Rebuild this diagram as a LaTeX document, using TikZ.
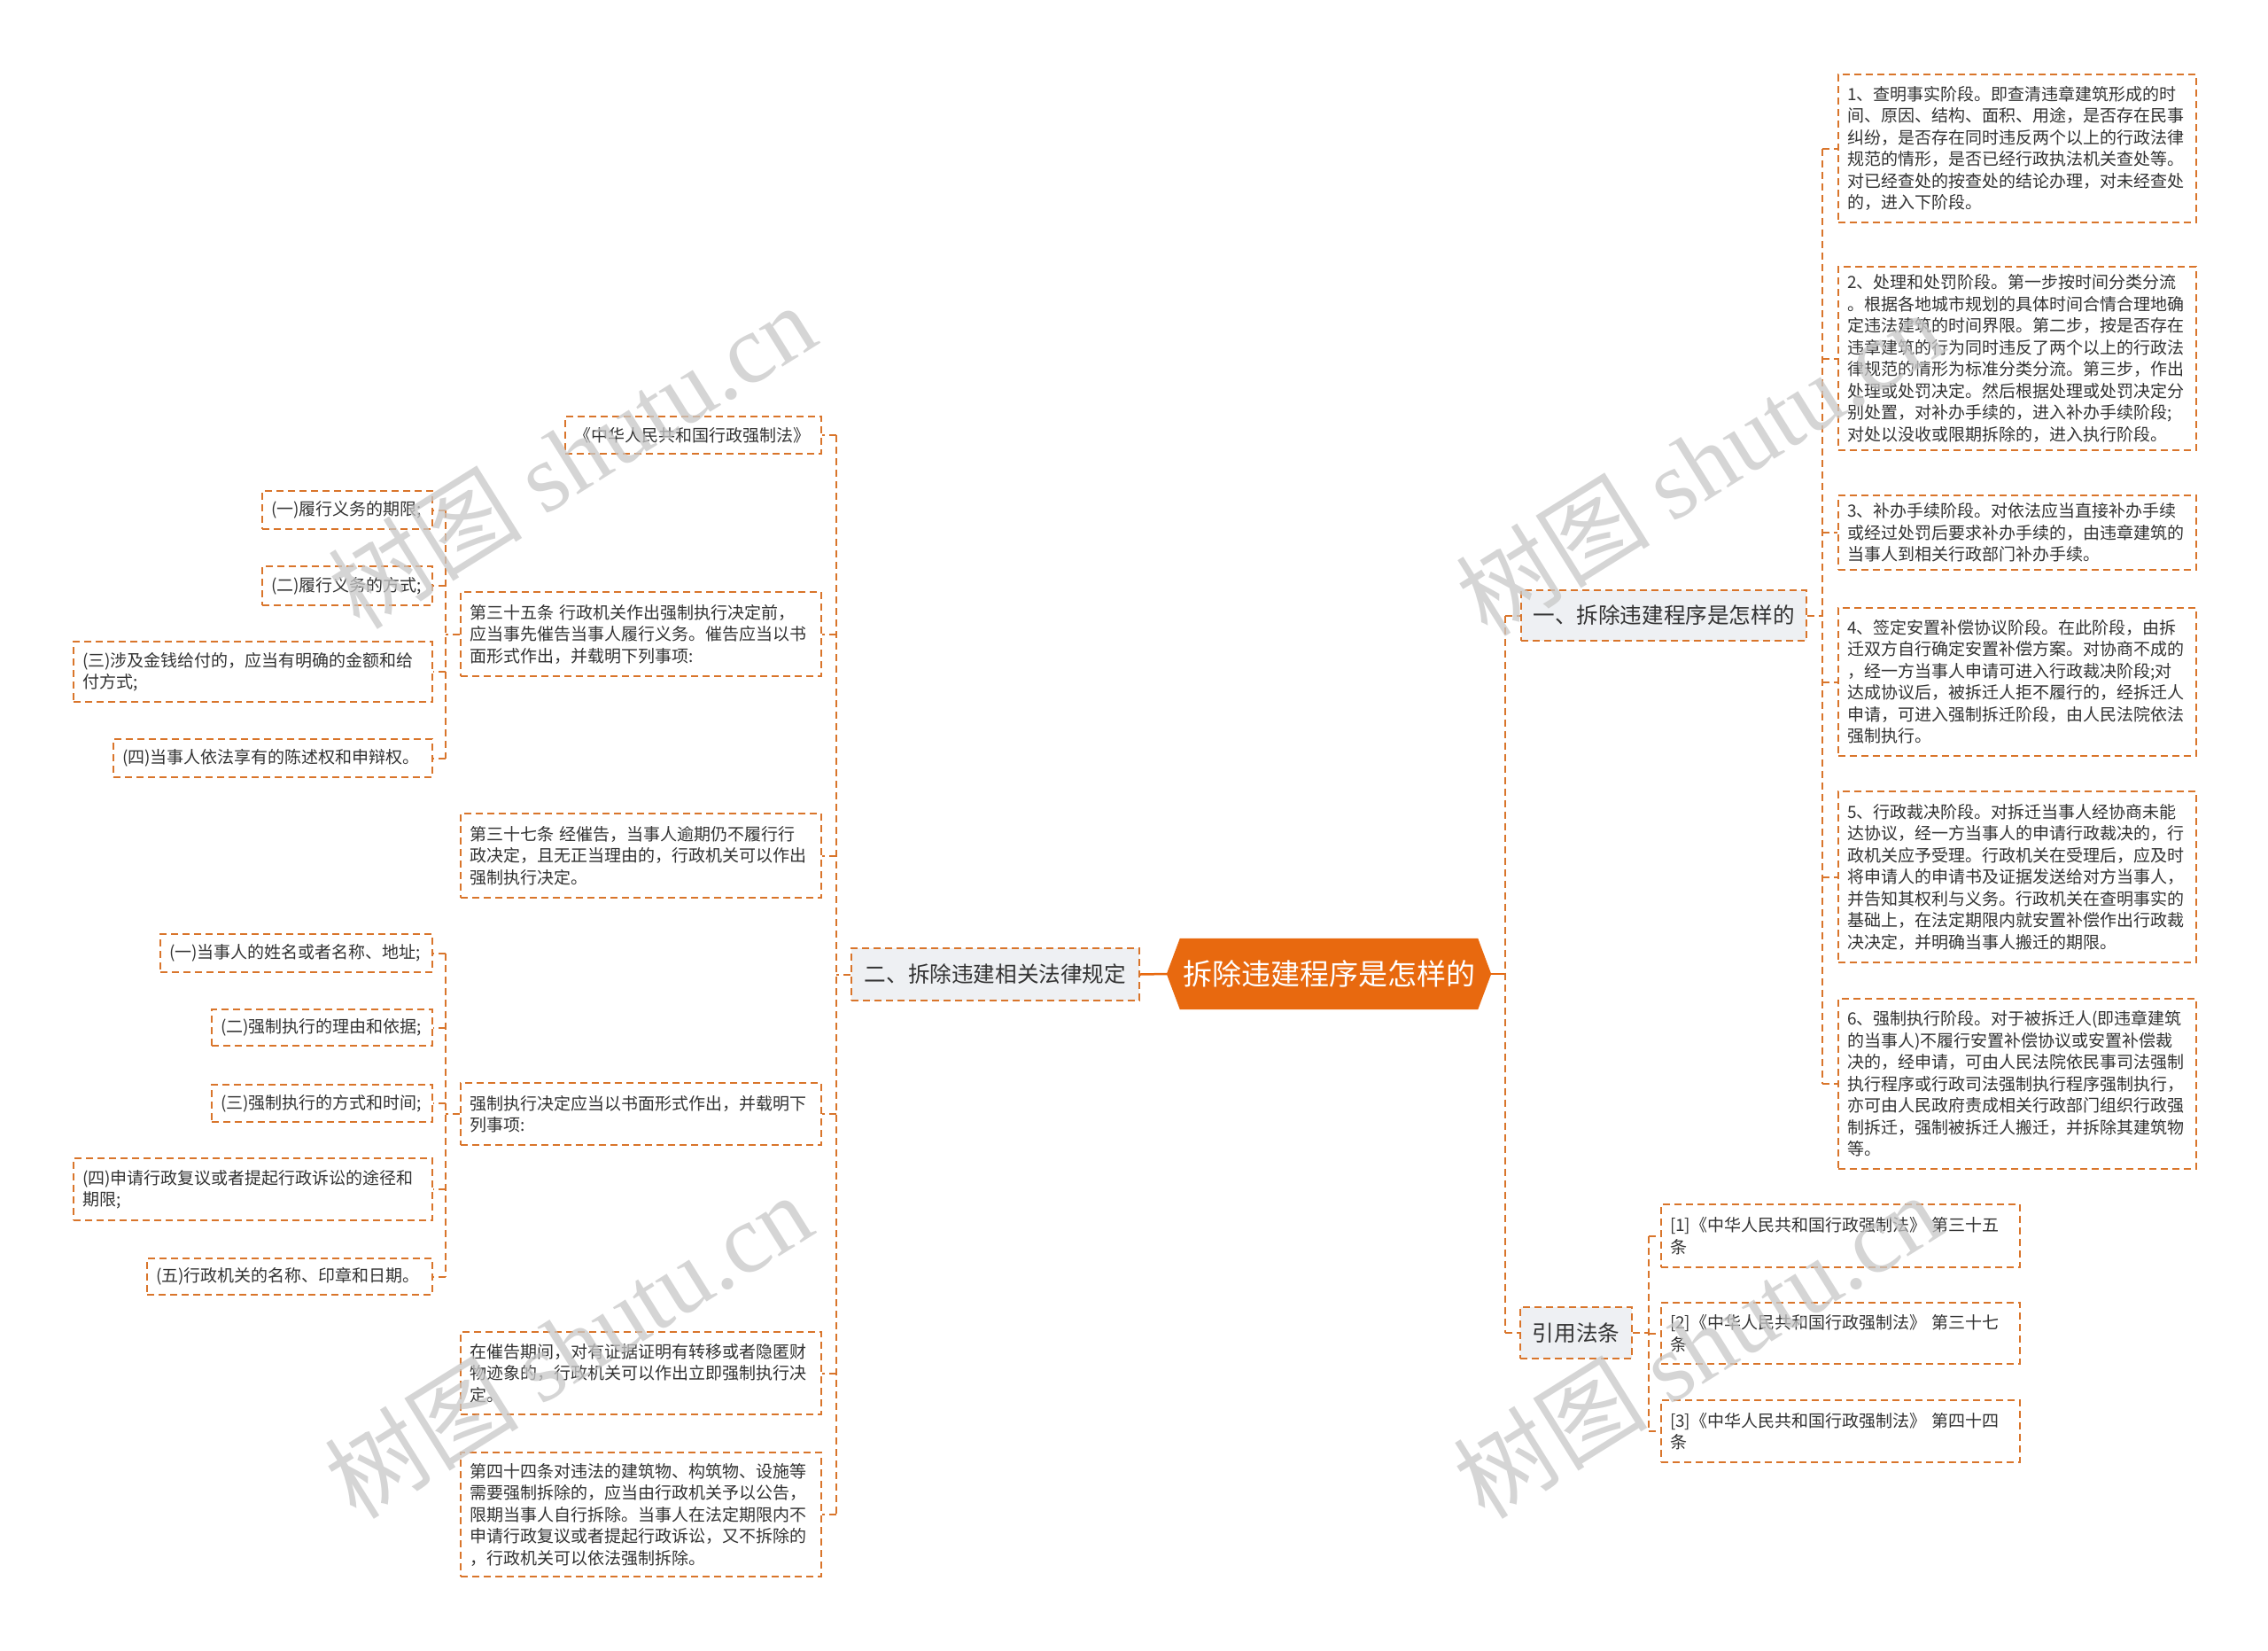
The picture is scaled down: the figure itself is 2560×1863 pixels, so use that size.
\documentclass[tikz,border=0pt]{standalone}
\usepackage{fontspec}
\setmainfont{Noto Sans CJK SC}
\newfontfamily\wmserif{Liberation Serif}
\usetikzlibrary{calc,backgrounds}
\definecolor{lc}{HTML}{D9752B}
\definecolor{cfill}{HTML}{E8690F}
\definecolor{tc}{HTML}{333333}
\definecolor{tf}{HTML}{EEF0F3}
\definecolor{wm}{HTML}{C8C8C8}
\begin{document}
\begin{tikzpicture}[x=1pt,y=-1pt,
 conn/.style={draw=lc, line width=2pt, dash pattern=on 8pt off 5pt},
 solidconn/.style={draw=cfill, line width=2.5pt},
 detail/.style={rectangle, draw=lc, line width=2pt, dash pattern=on 8pt off 5pt, fill=white, text=tc, font=\fontsize{19}{24.5}\selectfont, align=left, inner xsep=10pt, inner ysep=0pt, anchor=north west},
 topic/.style={rectangle, draw=lc, line width=2pt, dash pattern=on 8pt off 5pt, fill=tf, text=tc, font=\fontsize{24.6}{30}\selectfont, inner sep=0pt, anchor=north west},
 wmark/.style={text=wm, opacity=0.75, rotate=32, font=\fontsize{110}{110}\selectfont, inner sep=0pt}
]
\useasboundingbox (0,0) rectangle (2560,1863);

% central
\node[font=\fontsize{33}{36}\selectfont, text=white, minimum width=336pt, minimum height=80pt, inner sep=0pt] (c) at (1500,1099) {拆除违建程序是怎样的};
\coordinate (cl) at ($(c.west)+(-15,0)$);
\coordinate (cr) at ($(c.east)+(15,0)$);
\begin{scope}[on background layer]
\fill[white] (0,0) rectangle (2560,1863);
\fill[cfill] (cl) -- (c.north west) -- (c.north east) -- (cr) -- (c.south east) -- (c.south west) -- cycle;
\end{scope}

% level 1
\node[topic, minimum width=322pt, minimum height=57pt] (n1) at (1716,665) {一、拆除违建程序是怎样的};
\node[topic, minimum width=325pt, minimum height=59pt] (n2) at (960,1069) {二、拆除违建相关法律规定};
\node[topic, minimum width=126pt, minimum height=58pt] (n3) at (1715,1474) {引用法条};

% right details
\node[detail, text width=384pt, minimum width=404pt, minimum height=167pt] (r1) at (2074,83) {1、查明事实阶段。即查清违章建筑形成的时\\间、原因、结构、面积、用途，是否存在民事\\纠纷，是否存在同时违反两个以上的行政法律\\规范的情形，是否已经行政执法机关查处等。\\对已经查处的按查处的结论办理，对未经查处\\的，进入下阶段。};
\node[detail, text width=384pt, minimum width=404pt, minimum height=207pt] (r2) at (2074,300) {2、处理和处罚阶段。第一步按时间分类分流\\。根据各地城市规划的具体时间合情合理地确\\定违法建筑的时间界限。第二步，按是否存在\\违章建筑的行为同时违反了两个以上的行政法\\律规范的情形为标准分类分流。第三步，作出\\处理或处罚决定。然后根据处理或处罚决定分\\别处置，对补办手续的，进入补办手续阶段;\\对处以没收或限期拆除的，进入执行阶段。};
\node[detail, text width=384pt, minimum width=404pt, minimum height=84pt] (r3) at (2074,558) {3、补办手续阶段。对依法应当直接补办手续\\或经过处罚后要求补办手续的，由违章建筑的\\当事人到相关行政部门补办手续。};
\node[detail, text width=384pt, minimum width=404pt, minimum height=167pt] (r4) at (2074,685) {4、签定安置补偿协议阶段。在此阶段，由拆\\迁双方自行确定安置补偿方案。对协商不成的\\，经一方当事人申请可进入行政裁决阶段;对\\达成协议后，被拆迁人拒不履行的，经拆迁人\\申请，可进入强制拆迁阶段，由人民法院依法\\强制执行。};
\node[detail, text width=384pt, minimum width=404pt, minimum height=193pt] (r5) at (2074,892) {5、行政裁决阶段。对拆迁当事人经协商未能\\达协议，经一方当事人的申请行政裁决的，行\\政机关应予受理。行政机关在受理后，应及时\\将申请人的申请书及证据发送给对方当事人，\\并告知其权利与义务。行政机关在查明事实的\\基础上，在法定期限内就安置补偿作出行政裁\\决决定，并明确当事人搬迁的期限。};
\node[detail, text width=384pt, minimum width=404pt, minimum height=192pt] (r6) at (2074,1126) {6、强制执行阶段。对于被拆迁人(即违章建筑\\的当事人)不履行安置补偿协议或安置补偿裁\\决的，经申请，可由人民法院依民事司法强制\\执行程序或行政司法强制执行程序强制执行，\\亦可由人民政府责成相关行政部门组织行政强\\制拆迁，强制被拆迁人搬迁，并拆除其建筑物\\等。};

% citations
\node[detail, text width=385pt, minimum width=405pt, minimum height=71pt] (k1) at (1874,1358) {[1]《中华人民共和国行政强制法》 第三十五\\条};
\node[detail, text width=385pt, minimum width=405pt, minimum height=69pt] (k2) at (1874,1469) {[2]《中华人民共和国行政强制法》 第三十七\\条};
\node[detail, text width=385pt, minimum width=405pt, minimum height=70pt] (k3) at (1874,1579) {[3]《中华人民共和国行政强制法》 第四十四\\条};

% left level 2
\node[detail, text width=269pt, minimum width=289pt, minimum height=42pt] (L0) at (637,469) {《中华人民共和国行政强制法》};
\node[detail, text width=387pt, minimum width=407pt, minimum height=95pt] (L1) at (519,667) {第三十五条 行政机关作出强制执行决定前，\\应当事先催告当事人履行义务。催告应当以书\\面形式作出，并载明下列事项:};
\node[detail, text width=387pt, minimum width=407pt, minimum height=95pt] (L2) at (519,917) {第三十七条 经催告，当事人逾期仍不履行行\\政决定，且无正当理由的，行政机关可以作出\\强制执行决定。};
\node[detail, text width=387pt, minimum width=407pt, minimum height=70pt] (L3) at (519,1221) {强制执行决定应当以书面形式作出，并载明下\\列事项:};
\node[detail, text width=387pt, minimum width=407pt, minimum height=93pt] (L4) at (519,1502) {在催告期间，对有证据证明有转移或者隐匿财\\物迹象的，行政机关可以作出立即强制执行决\\定。};
\node[detail, text width=387pt, minimum width=407pt, minimum height=140pt] (L5) at (519,1638) {第四十四条对违法的建筑物、构筑物、设施等\\需要强制拆除的，应当由行政机关予以公告，\\限期当事人自行拆除。当事人在法定期限内不\\申请行政复议或者提起行政诉讼，又不拆除的\\，行政机关可以依法强制拆除。};

% children of L1
\node[detail, text width=172pt, minimum width=192pt, minimum height=43pt] (a1) at (295,553) {(一)履行义务的期限;};
\node[detail, text width=172pt, minimum width=192pt, minimum height=44pt] (a2) at (295,638) {(二)履行义务的方式;};
\node[detail, text width=385pt, minimum width=405pt, minimum height=68pt] (a3) at (82,723) {(三)涉及金钱给付的，应当有明确的金额和给\\付方式;};
\node[detail, text width=340pt, minimum width=360pt, minimum height=43pt] (a4) at (127,833) {(四)当事人依法享有的陈述权和申辩权。};

% children of L3
\node[detail, text width=287pt, minimum width=307pt, minimum height=43pt] (b1) at (180,1053) {(一)当事人的姓名或者名称、地址;};
\node[detail, text width=229pt, minimum width=249pt, minimum height=41pt] (b2) at (238,1138) {(二)强制执行的理由和依据;};
\node[detail, text width=229pt, minimum width=249pt, minimum height=42pt] (b3) at (238,1223) {(三)强制执行的方式和时间;};
\node[detail, text width=385pt, minimum width=405pt, minimum height=70pt] (b4) at (82,1306) {(四)申请行政复议或者提起行政诉讼的途径和\\期限;};
\node[detail, text width=302pt, minimum width=322pt, minimum height=41pt] (b5) at (165,1419) {(五)行政机关的名称、印章和日期。};

% connectors: centre
\draw[solidconn] (cl) -- (n2.east);
\coordinate (sR) at ($(cr)+(16,0)$);
\draw[solidconn] (cr) -- (sR);
\draw[conn] (sR |- n1.west) -- (sR |- n3.west);
\draw[conn] (sR |- n1.west) -- (n1.west);
\draw[conn] (sR |- n3.west) -- (n3.west);

% n1 -> r
\coordinate (s1) at ($(n1.east)+(17,0)$);
\draw[conn] (n1.east) -- (s1);
\draw[conn] (s1 |- r1.west) -- (s1 |- r6.west);
\foreach \k in {r1,r2,r3,r4,r5,r6} \draw[conn] (s1 |- \k.west) -- (\k.west);

% n3 -> k
\coordinate (s3) at ($(n3.east)+(18,0)$);
\draw[conn] (n3.east) -- (s3);
\draw[conn] (s3 |- k1.west) -- (s3 |- k3.west);
\foreach \k in {k1,k2,k3} \draw[conn] (s3 |- \k.west) -- (\k.west);

% n2 -> L
\coordinate (sL) at ($(n2.west)+(-16,0)$);
\draw[conn] (n2.west) -- (sL);
\draw[conn] (sL |- L0.east) -- (sL |- L5.east);
\foreach \k in {L0,L1,L2,L3,L4,L5} \draw[conn] (sL |- \k.east) -- (\k.east);

% L1 -> a
\coordinate (sA) at ($(L1.west)+(-16,0)$);
\draw[conn] (L1.west) -- (sA);
\draw[conn] (sA |- a1.east) -- (sA |- a4.east);
\foreach \k in {a1,a2,a3,a4} \draw[conn] (sA |- \k.east) -- (\k.east);

% L3 -> b
\coordinate (sB) at ($(L3.west)+(-16,0)$);
\draw[conn] (L3.west) -- (sB);
\draw[conn] (sB |- b1.east) -- (sB |- b5.east);
\foreach \k in {b1,b2,b3,b4,b5} \draw[conn] (sB |- \k.east) -- (\k.east);

% watermarks
\node[wmark] (w1) at (645,514) {树图 {\wmserif shutu.cn}};
\node[wmark] (w2) at (641,1518) {树图 {\wmserif shutu.cn}};
\node[wmark] (w3) at (1918,522) {树图 {\wmserif shutu.cn}};
\node[wmark] (w4) at (1915,1518) {树图 {\wmserif shutu.cn}};
\end{tikzpicture}
\end{document}
